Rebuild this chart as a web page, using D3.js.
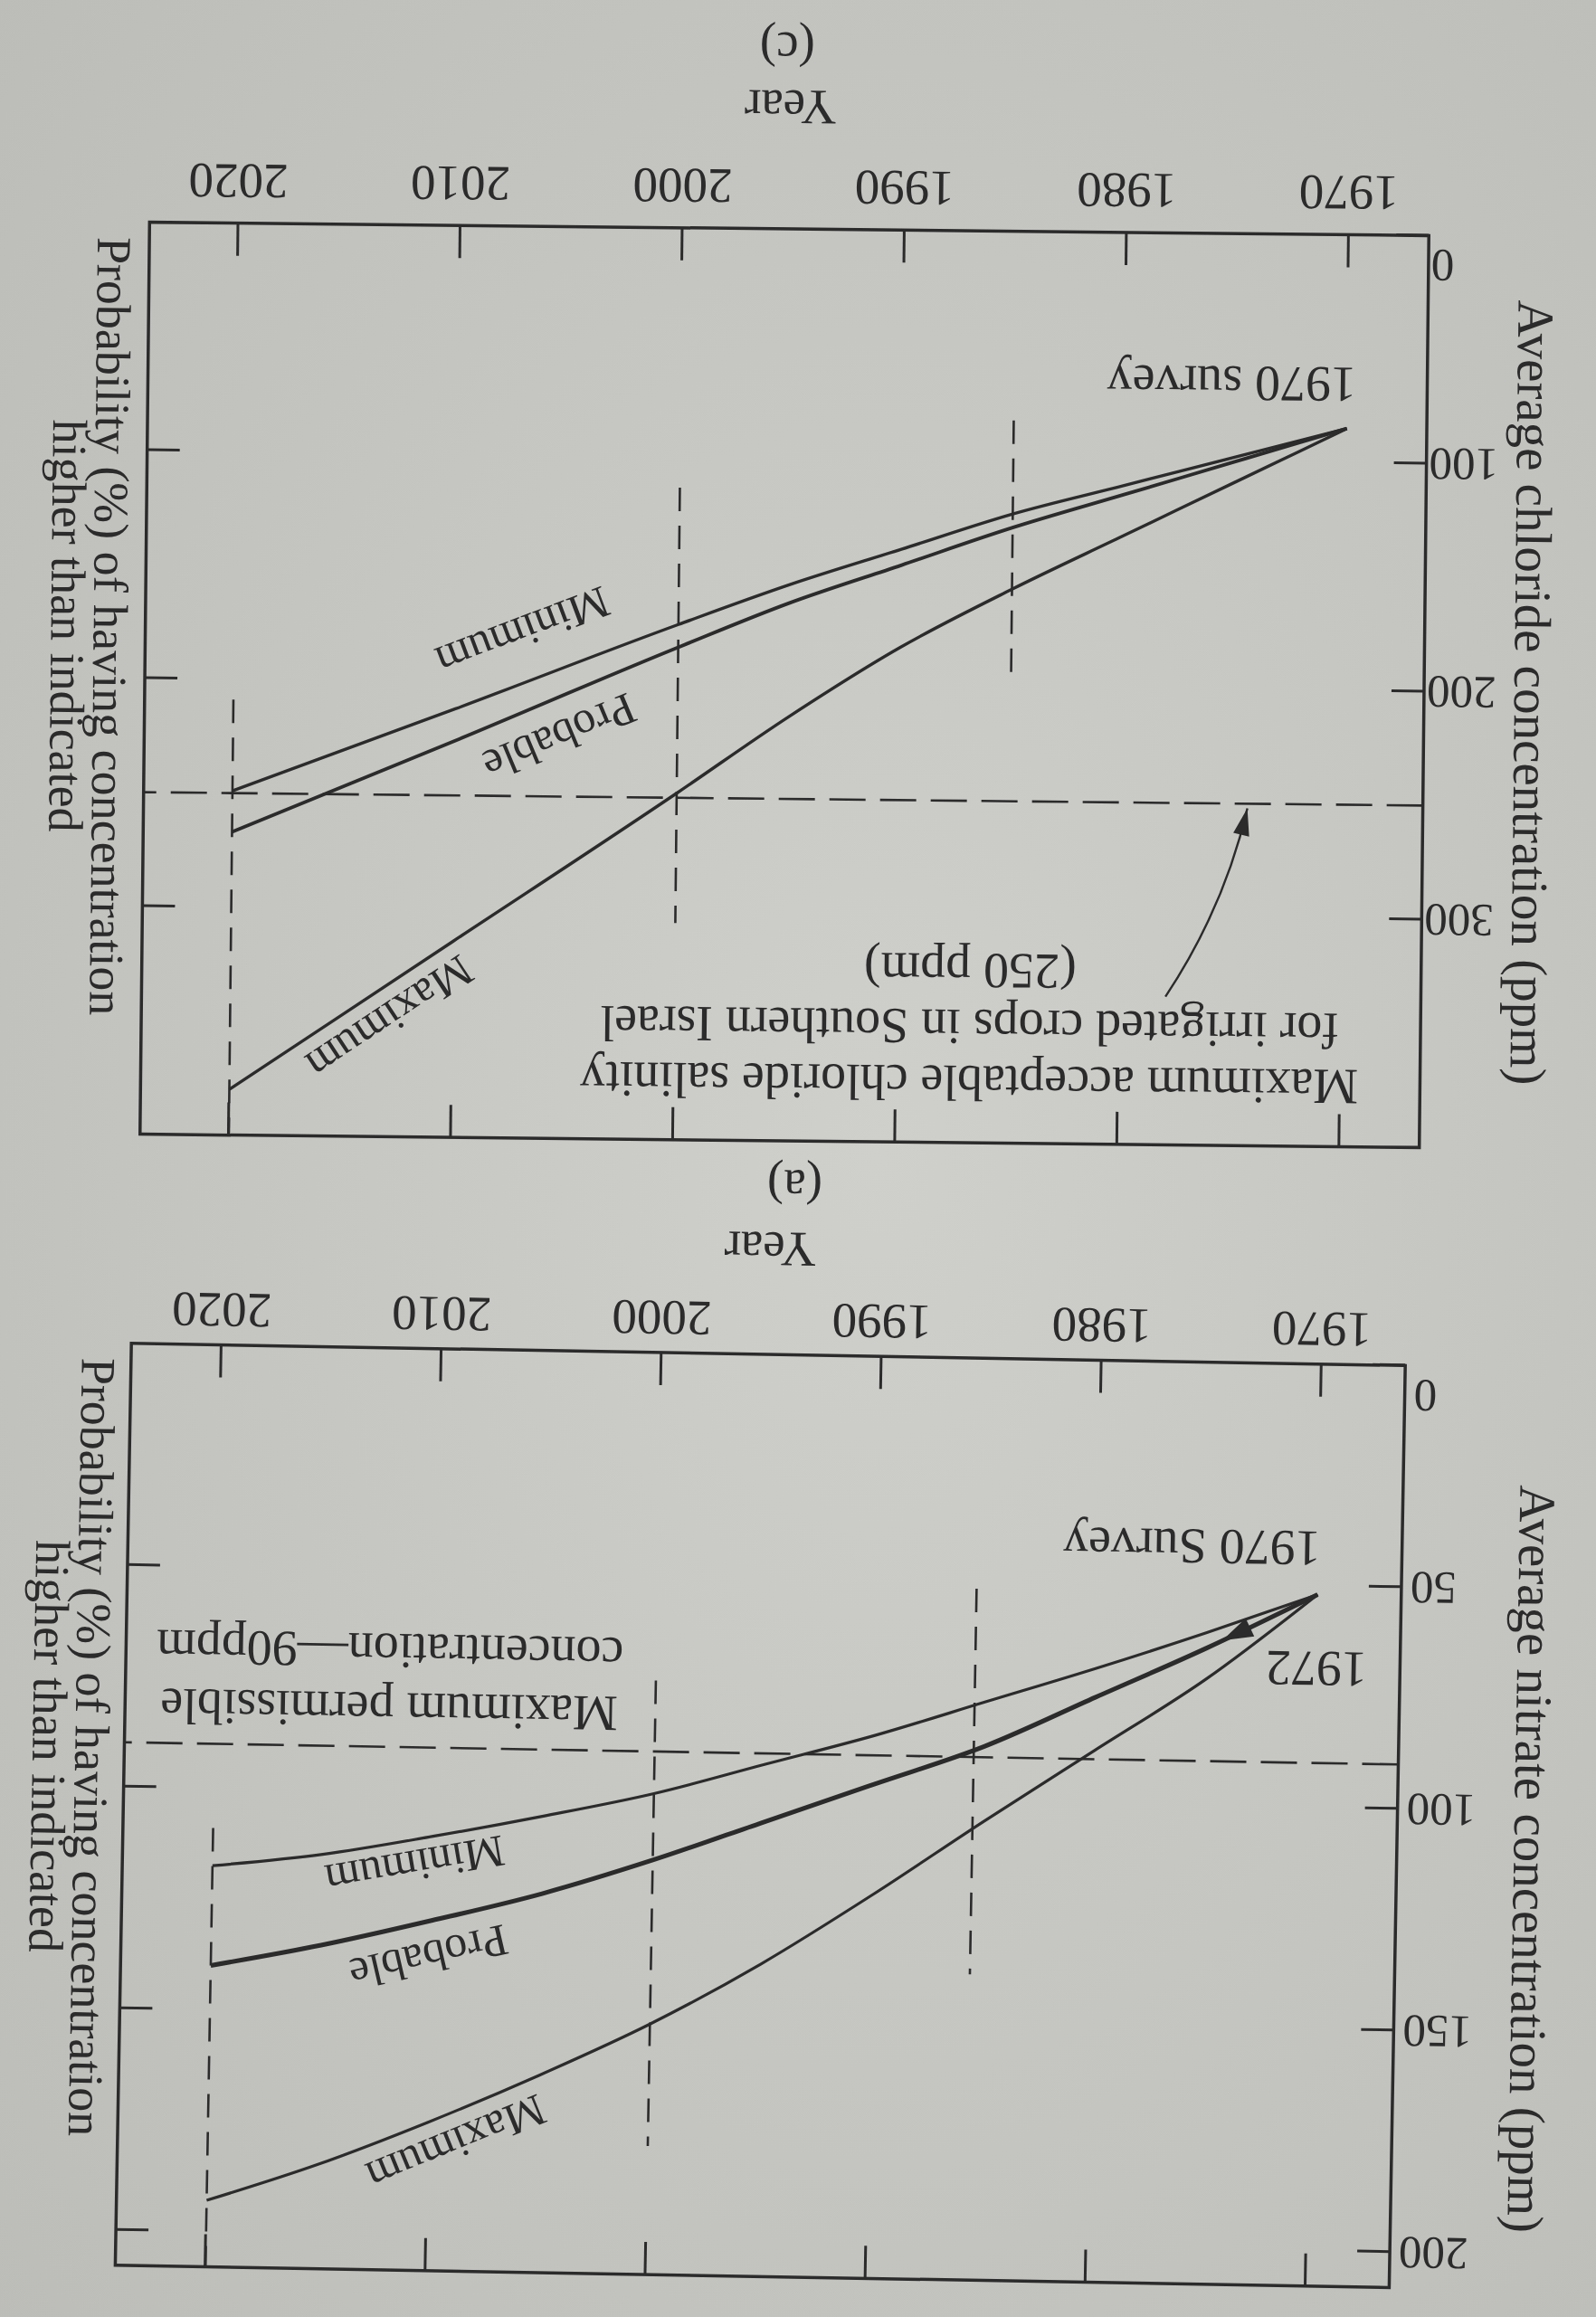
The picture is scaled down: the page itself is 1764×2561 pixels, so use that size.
<html>
<head>
<meta charset="utf-8">
<script src="https://d3js.org/d3.v7.min.js"></script>
<style>
  body { margin: 0; background: #c6c7c3; }
  svg { display: block; }
</style>
</head>
<body>
<script>

// values (the printed page is upside down in it)
let chlorideYears = [1970, 1975, 1980, 1985, 1990, 1995, 2000, 2010, 2020];
let chlorideMin   = [85, 98, 111, 124, 140, 156, 174, 212, 249];
let chlorideProb  = [85, 100, 115, 130, 147, 164, 184, 226, 267];
let chlorideMax   = [85, 109, 133, 157, 183, 214, 248, 314, 380];
let chlorideLimit = 250;

let nitrateYears = [1970, 1975, 1980, 1985, 1990, 1995, 2000, 2005, 2010, 2015, 2020];
let nitrateMin   = [52, 61, 69.5, 77.5, 85.5, 92.5, 99.5, 105, 110, 114.5, 117.5];
let nitrateProb  = [52, 64.5, 76, 87.5, 96.5, 105.5, 114.5, 122.5, 129, 135, 140];
let nitrateMax   = [52, 71.5, 88, 104.5, 121.5, 137.5, 151.5, 163.5, 174.5, 184.5, 193];
let nitrateLimit = 90;

let yearTicks     = [1970, 1980, 1990, 2000, 2010, 2020];
let chlorideTicks = [0, 100, 200, 300];
let nitrateTicks  = [0, 50, 100, 150, 200];

// dashed drop lines : year, from, to
let chlorideDropYears = [1985, 2000, 2020];
let chlorideDropFrom  = [83, 114, 209];
let chlorideDropTo    = [196, 305, 400];
let nitrateDropYears  = [1985.5, 2000, 2020];
let nitrateDropFrom   = [52, 74, 109];
let nitrateDropTo     = [139, 179, 208];

let seriesNames = ["Minimum", "Probable", "Maximum"];


const W = 1764, H = 2561;
const ink = "#2b2b2b";
const serif = "'Liberation Serif', 'DejaVu Serif', serif";

let svg = d3.select("body").append("svg")
  .attr("width", W)
  .attr("height", H);

let grad = svg.append("defs").append("radialGradient")
  .attr("id", "paper").attr("cx", "55%").attr("cy", "50%").attr("r", "75%");
grad.append("stop").attr("offset", "0%").attr("stop-color", "#cfd0cc");
grad.append("stop").attr("offset", "100%").attr("stop-color", "#bcbdb9");

svg.append("rect").attr("width", W).attr("height", H).attr("fill", "url(#paper)");

// whole page is drawn the right way up, then turned over like the photo
let page = svg.append("g").attr("transform", `rotate(180 ${W / 2} ${H / 2})`);

let panels = [
  {
    years: chlorideYears, series: [chlorideMin, chlorideProb, chlorideMax],
    limit: chlorideLimit,
    dropYears: chlorideDropYears, dropFrom: chlorideDropFrom, dropTo: chlorideDropTo,
    yTicks: chlorideTicks,
    xDomain: [1966.4, 2024], yDomain: [0, 400],
    left: 190, right: 1604, bottom: 2308, top: 1300,
    tilt: 0.6, pad: 3,
    widths: [3.4, 3.9, 3.4],
    labelAt: [[2007, 178], [2005.3, 224], [2012.8, 348]],
    yearGap: 65, yearTitleGap: 153, captionGap: 217, captionDx: 4,
    caption: "(c)",
    yTitle: "Average chloride concentration (ppm)", yTitleY: 1804,
    probX: 1661,
    notes: [
      { text: "Maximum acceptable chloride salinity", year: 1986.7, value: 366.3, anchor: "middle" },
      { text: "for irrigated crops in Southern Israel", year: 1986.7, value: 341.7, anchor: "middle" },
      { text: "(250 ppm)", year: 1986.7, value: 317.1, anchor: "middle" },
      { text: "1970 survey", year: 1969.6, value: 58.3, anchor: "start" }
    ],
    arrow: [[1977.9, 335], [1975.3, 296], [1974.3, 252]]
  },
  {
    years: nitrateYears, series: [nitrateMin, nitrateProb, nitrateMax],
    limit: nitrateLimit,
    dropYears: nitrateDropYears, dropFrom: nitrateDropFrom, dropTo: nitrateDropTo,
    yTicks: nitrateTicks,
    xDomain: [1966.2, 2024.1], yDomain: [0, 208],
    left: 219.6, right: 1627.8, bottom: 1064, top: 44.8,
    tilt: 1.0, pad: 10,
    widths: [3.2, 5, 3.2],
    labelAt: [[2010.8, 116.7], [2010.1, 137.3], [2008.7, 179.2]],
    yearGap: 57, yearTitleGap: 135, captionGap: 204, captionDx: -26,
    caption: "(a)",
    yTitle: "Average nitrate concentration (ppm)", yTitleY: 521,
    probX: 1682,
    notes: [
      { text: "Maximum permissible", year: 2012.1, value: 77.8, anchor: "middle" },
      { text: "concentration\u201490ppm", year: 2012.1, value: 64.5, anchor: "middle" },
      { text: "1970 Survey", year: 1969.9, value: 37.8, anchor: "start" },
      { text: "1972", year: 1967.7, value: 64.9, anchor: "start" }
    ],
    marker: 1974.3
  }
];

panels.forEach(drawPanel);


function drawPanel(p) {
  let x = d3.scaleLinear().domain(p.xDomain).range([p.left, p.right]);
  let y = d3.scaleLinear().domain(p.yDomain).range([p.bottom, p.top]);
  let cx = (p.left + p.right) / 2;
  let cy = (p.top + p.bottom) / 2;

  let g = page.append("g").attr("transform", `rotate(${p.tilt} ${cx} ${cy})`);

  let styleAxis = a => {
    a.select(".domain").remove();
    a.selectAll("line").attr("stroke", ink).attr("stroke-width", 3);
    a.selectAll("text")
      .attr("font-family", serif)
      .attr("font-size", 55)
      .attr("fill", ink);
  };

  // year axis (inner ticks) and its twin on the opposite edge
  g.append("g")
    .attr("transform", `translate(0,${p.bottom})`)
    .call(d3.axisBottom(x).tickValues(yearTicks).tickFormat(d3.format("d")).tickSize(-36))
    .call(styleAxis)
    .call(a => a.selectAll("text").attr("y", p.yearGap).attr("dy", 0));

  g.append("g")
    .attr("transform", `translate(0,${p.top})`)
    .call(d3.axisTop(x).tickValues(yearTicks).tickFormat("").tickSize(-36))
    .call(styleAxis);

  // concentration axis
  g.append("g")
    .attr("transform", `translate(${p.left},0)`)
    .call(d3.axisLeft(y).tickValues(p.yTicks).tickSize(-36).tickPadding(p.pad))
    .call(styleAxis)
    .call(a => a.selectAll("text").attr("font-size", 51))
    .call(a => a.selectAll("text").filter(d => d === 0).attr("dy", "-0.32em"));

  g.append("g")
    .attr("transform", `translate(${p.right},0)`)
    .call(d3.axisRight(y).tickValues(p.yTicks.filter(d => d > 0)).tickFormat("").tickSize(-36))
    .call(styleAxis);

  g.append("rect")
    .attr("x", p.left)
    .attr("y", p.top)
    .attr("width", p.right - p.left)
    .attr("height", p.bottom - p.top)
    .attr("fill", "none")
    .attr("stroke", ink)
    .attr("stroke-width", 3.5);

  // limit line
  g.append("line")
    .attr("x1", x(p.xDomain[0])).attr("x2", x(p.xDomain[1]))
    .attr("y1", y(p.limit)).attr("y2", y(p.limit))
    .attr("stroke", ink).attr("stroke-width", 2.6)
    .attr("stroke-dasharray", "40,16");

  // vertical drops
  g.selectAll(".drop")
    .data(p.dropYears)
    .enter()
    .append("line")
    .attr("x1", d => x(d)).attr("x2", d => x(d))
    .attr("y1", (d, i) => y(p.dropFrom[i]))
    .attr("y2", (d, i) => y(p.dropTo[i]))
    .attr("stroke", ink).attr("stroke-width", 2.6)
    .attr("stroke-dasharray", "26,16");

  // the three forecasts
  let line = d3.line()
    .x(d => x(d[0]))
    .y(d => y(d[1]))
    .curve(d3.curveMonotoneX);

  g.selectAll(".series")
    .data(p.series)
    .enter()
    .append("path")
    .attr("d", s => line(d3.zip(p.years, s)))
    .attr("fill", "none")
    .attr("stroke", ink)
    .attr("stroke-width", (s, i) => p.widths[i])
    .attr("stroke-linejoin", "round");

  // labels run along their line
  let along = (s, yr) => {
    let f = d3.scaleLinear().domain(p.years).range(s);
    let a = yr - 4, b = yr + 4;
    return Math.atan2(y(f(b)) - y(f(a)), x(b) - x(a)) * 180 / Math.PI;
  };

  p.labelAt.forEach((pos, i) => {
    g.append("text")
      .attr("transform", `translate(${x(pos[0])},${y(pos[1])}) rotate(${along(p.series[i], pos[0])})`)
      .attr("text-anchor", "middle")
      .attr("dominant-baseline", "central")
      .attr("font-family", serif)
      .attr("font-size", 50)
      .attr("fill", ink)
      .text(seriesNames[i]);
  });

  p.notes.forEach(n => {
    g.append("text")
      .attr("x", x(n.year))
      .attr("y", y(n.value))
      .attr("text-anchor", n.anchor)
      .attr("font-family", serif)
      .attr("font-size", 56)
      .attr("fill", ink)
      .text(n.text);
  });

  if (p.arrow) {
    let pts = p.arrow.map(d => [x(d[0]), y(d[1])]);
    let path = d3.path();
    path.moveTo(pts[0][0], pts[0][1]);
    path.quadraticCurveTo(pts[1][0], pts[1][1], pts[2][0], pts[2][1]);
    g.append("path")
      .attr("d", path.toString())
      .attr("fill", "none")
      .attr("stroke", ink)
      .attr("stroke-width", 2.4);
    let ang = Math.atan2(pts[2][1] - pts[1][1], pts[2][0] - pts[1][0]) * 180 / Math.PI;
    g.append("path")
      .attr("d", "M0,0L-30,-9L-30,9Z")
      .attr("transform", `translate(${pts[2][0]},${pts[2][1]}) rotate(${ang})`)
      .attr("fill", ink);
  }

  if (p.marker) {
    let f = d3.scaleLinear().domain(p.years).range(p.series[1]);
    g.append("path")
      .attr("d", "M0,0L-34,-11L-34,11Z")
      .attr("transform", `translate(${x(p.marker)},${y(f(p.marker))}) rotate(${along(p.series[1], p.marker - 2)})`)
      .attr("fill", ink);
  }

  // titles
  g.append("text")
    .attr("x", cx)
    .attr("y", p.bottom + p.yearTitleGap)
    .attr("text-anchor", "middle")
    .attr("font-family", serif)
    .attr("font-size", 55)
    .attr("fill", ink)
    .text("Year");

  g.append("text")
    .attr("x", cx + p.captionDx)
    .attr("y", p.bottom + p.captionGap)
    .attr("text-anchor", "middle")
    .attr("font-family", serif)
    .attr("font-size", 55)
    .attr("fill", ink)
    .text(p.caption);

  g.append("text")
    .attr("transform", `translate(90,${p.yTitleY}) rotate(-90)`)
    .attr("text-anchor", "middle")
    .attr("font-family", serif)
    .attr("font-size", 57)
    .attr("fill", ink)
    .text(p.yTitle);

  ["Probability (%) of having concentration", "higher than indicated"].forEach((t, i) => {
    g.append("text")
      .attr("transform", `translate(${p.probX + i * 47},${p.bottom - 447}) rotate(-90)`)
      .attr("text-anchor", "middle")
      .attr("font-family", serif)
      .attr("font-size", 54)
      .attr("fill", ink)
      .text(t);
  });
}

</script>
</body>
</html>
